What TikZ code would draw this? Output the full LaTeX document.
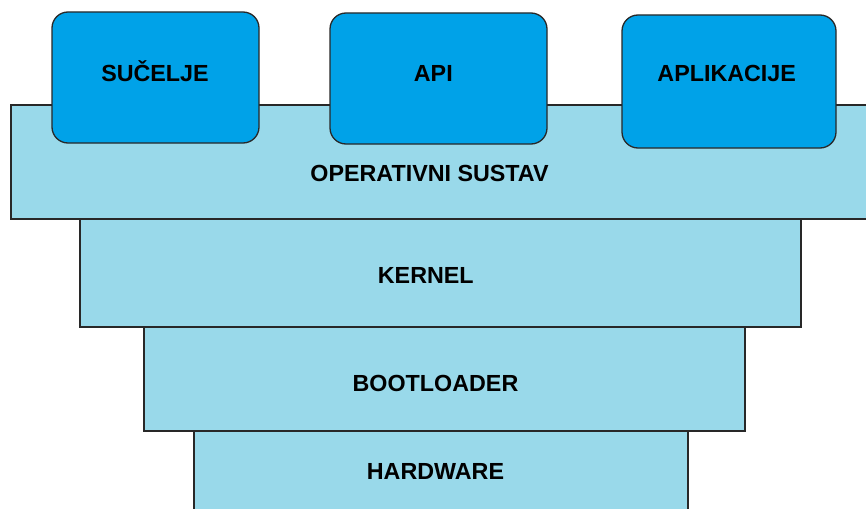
\documentclass[tikz,border=0pt]{standalone}
\usepackage{fontspec}
\setmainfont{Liberation Sans}
\definecolor{layerfill}{RGB}{153,217,234}
\definecolor{boxfill}{RGB}{0,162,232}
\definecolor{edgecol}{RGB}{40,40,40}
\begin{document}
\begin{tikzpicture}[x=1pt,y=-1pt,
  layer/.style={fill=layerfill,draw=edgecol,line width=1.3pt},
  appbox/.style={fill=boxfill,draw=edgecol,line width=1.3pt,rounded corners=16pt},
  lbl/.style={font=\fontsize{23.3}{28}\selectfont\bfseries,anchor=base,inner sep=0pt,text=black}]
\useasboundingbox (0,0) rectangle (866,508);
\clip (0,0) rectangle (866,508);
% layers
\draw[layer] (11,105) rectangle (885,219);
\draw[layer] (80,219) rectangle (801,327);
\draw[layer] (144,327) rectangle (745,431);
\draw[layer] (194,431) rectangle (688,520);
% top boxes
\draw[appbox] (52,12) rectangle (259,143);
\draw[appbox] (330,13) rectangle (547,144);
\draw[appbox] (622,15) rectangle (836,148);
% labels
\node[lbl] (sucelje) at (155,82) {SUČELJE};
\node[lbl] (api) at (433.3,82) {API};
\node[lbl] (aplikacije) at (726.7,82) {APLIKACIJE};
\node[lbl] (os) at (429.5,181.7) {OPERATIVNI SUSTAV};
\node[lbl] (kernel) at (425.8,283.3) {KERNEL};
\node[lbl] (boot) at (435.5,391.7) {BOOTLOADER};
\node[lbl] (hw) at (435.5,479.3) {HARDWARE};
\end{tikzpicture}
\end{document}
